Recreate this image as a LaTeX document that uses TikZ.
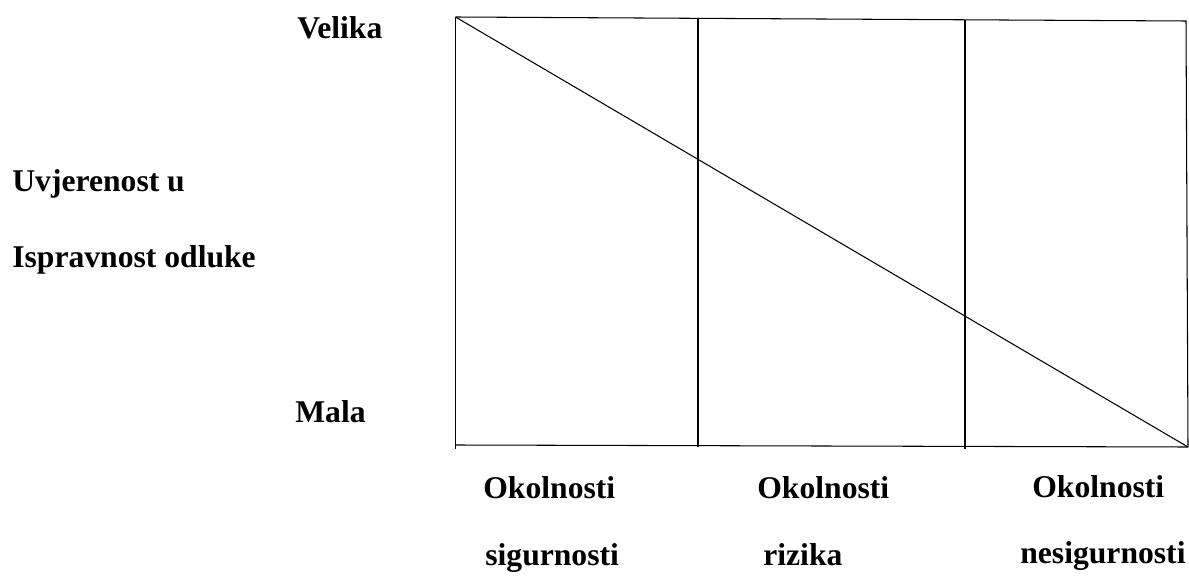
\documentclass[tikz,border=0pt]{standalone}
\usepackage{fontspec}
\setmainfont{Liberation Serif}
\usepackage{tikz}
\usetikzlibrary{positioning,calc}
\tikzset{
  axisText/.style={anchor=base west,inner sep=0pt,font=\fontsize{18}{21}\selectfont\bfseries},
  chartLine/.style={line width=0.6pt,draw=black},
}

\begin{document}
\begin{tikzpicture}
  \useasboundingbox (0,0) rectangle (23.78,-11.58);
  % frame corners
  \coordinate (tl) at (9.11,-0.34);
  \coordinate (tr) at (23.72,-0.42);
  \coordinate (bl) at (9.11,-8.90);
  \coordinate (br) at (23.76,-8.94);
  \coordinate (v1t) at (13.96,-0.38);
  \coordinate (v1b) at (13.96,-8.94);
  \coordinate (v2t) at (19.30,-0.40);
  \coordinate (v2b) at (19.30,-8.98);
  \draw[chartLine](tl)--(tr)--(br);
  \draw[chartLine](tl)--(9.11,-8.98);
  \draw[chartLine](bl)--(br);
  \draw[chartLine](v1t)--(v1b);
  \draw[chartLine](v2t)--(v2b);
  \draw[chartLine](tl)--(br);
  % vertical axis
  \node[axisText](velika) at (5.94,-0.78) {Velika};
  \node[axisText](mala) at (5.90,-8.44) {Mala};
  \node[axisText](uvj) at (0.24,-3.84) {Uvjerenost u};
  \node[axisText](ispr) at (0.24,-5.36) {Ispravnost odluke};
  % horizontal axis
  \node[axisText](ok1) at (9.66,-9.96) {Okolnosti};
  \node[axisText](sig) at (9.70,-11.30) {sigurnosti};
  \node[axisText](ok2) at (15.14,-9.96) {Okolnosti};
  \node[axisText](riz) at (15.26,-11.30) {rizika};
  \node[axisText](ok3) at (20.64,-9.94) {Okolnosti};
  \node[axisText](nes) at (20.40,-11.26) {nesigurnosti};
\end{tikzpicture}
\end{document}
